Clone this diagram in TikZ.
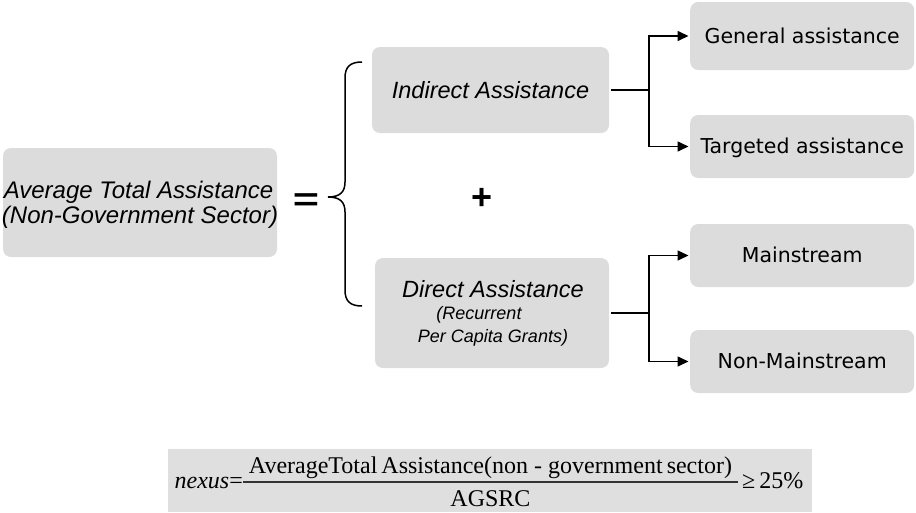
\documentclass[tikz,border=0pt]{standalone}
\usepackage{graphicx}
\usepackage{fontspec}
\setmainfont{Liberation Serif}
\setsansfont{Liberation Sans}
\newfontfamily\tahfont{DejaVu Sans}
\usetikzlibrary{arrows.meta}
\definecolor{boxgray}{HTML}{DCDCDC}
\definecolor{fgray}{HTML}{DFDFDF}
\begin{document}
\begin{tikzpicture}[x=1pt,y=-1pt,
  box/.style={fill=boxgray, rounded corners=8pt, inner sep=0pt},
  lab/.style={font=\sffamily\itshape\fontsize{23.5}{27}\selectfont, inner sep=0pt},
  biglab/.style={font=\sffamily\itshape\fontsize{24}{27}\selectfont, inner sep=0pt},
  sublab/.style={font=\sffamily\itshape\fontsize{18}{21}\selectfont, inner sep=0pt},
  rbox/.style={box, minimum width=224pt, minimum height=63pt,
    font=\tahfont\fontsize{20.5}{24}\selectfont, text height=14.9pt, text depth=0pt},
  bigsym/.style={font=\sffamily\bfseries\fontsize{36}{36}\selectfont, inner sep=0pt},
  conn/.style={line width=1.6pt},
  arr/.style={conn, -{Triangle[length=11pt,width=10pt]}, shorten >=1.5pt},
  bracel/.style={line width=1.5pt},
  ftext/.style={font=\rmfamily\fontsize{24}{28}\selectfont, inner sep=0pt}]
\useasboundingbox (0,0) rectangle (916,512);

% left box
\node[box, minimum width=274pt, minimum height=109pt] (atb) at (140,202.5) {};
\node[biglab, anchor=base] (atb1) at (138.5,198.5) {Average Total Assistance};
\node[biglab, anchor=base] (atb2) at (140,223.5) {(Non-Government Sector)};

% equals and brace
\node[bigsym] (eq) at (306,202.5) {\scalebox{1.25}[0.9]{=}};
\draw[bracel] (362,62) .. controls (350,62) and (345,67) .. (345,78)
  -- (345,182) .. controls (345,192) and (340,197) .. (328,197)
  .. controls (340,197) and (345,202) .. (345,212)
  -- (345,290) .. controls (345,301) and (350,306) .. (362,306);

% middle boxes
\node[box, lab, minimum width=237pt, minimum height=86pt, text height=16.8pt, text depth=0pt] (ind) at (490.5,90) {Indirect Assistance};
\node[bigsym] (plus) at (482.5,198.5) {+};
\node[box, minimum width=234pt, minimum height=110pt] (dir) at (492,313) {};
\node[lab, anchor=base] (dir1) at (493,297) {Direct Assistance};
\node[sublab, anchor=base] (dir2) at (479,319.5) {(Recurrent};
\node[sublab, anchor=base] (dir3) at (493,342.5) {Per Capita Grants)};

% right boxes
\node[rbox, anchor=west, minimum height=68pt] (gen) at (690,36) {General assistance};
\node[rbox, anchor=west] (tar) at (690,146.5) {Targeted assistance};
\node[rbox, anchor=west] (mai) at (690,255.5) {Mainstream};
\node[rbox, anchor=west] (non) at (690,361.5) {Non-Mainstream};

% connectors
\coordinate (j1) at (649,90);
\coordinate (j2) at (649,313);
\draw[conn, shorten <=2pt] (ind.east) -- (j1);
\draw[arr] (j1) |- (gen.west);
\draw[arr] (j1) |- (tar.west);
\draw[conn, shorten <=2pt] (dir.east) -- (j2);
\draw[arr] (j2) |- (mai.west);
\draw[arr] (j2) |- (non.west);

% formula
\node[fill=fgray, minimum width=644pt, minimum height=63pt, inner sep=0pt, anchor=north west] (fbox) at (168,449) {};
\node[ftext, anchor=base east] (fnx) at (243,488) {\textit{nexus}=};
\node[ftext, anchor=base] (fnum) at (490.5,473) {AverageTotal\,Assistance(non - government\,sector)};
\coordinate (bl) at (243,482);
\coordinate (br) at (738,482);
\draw[line width=1.2pt, black!80] (bl) -- (br);
\node[ftext, anchor=base] (fden) at (490.5,506) {AGSRC};
\node[ftext, anchor=base west] (fge) at (742,488) {≥\,25\%};
\end{tikzpicture}
\end{document}
